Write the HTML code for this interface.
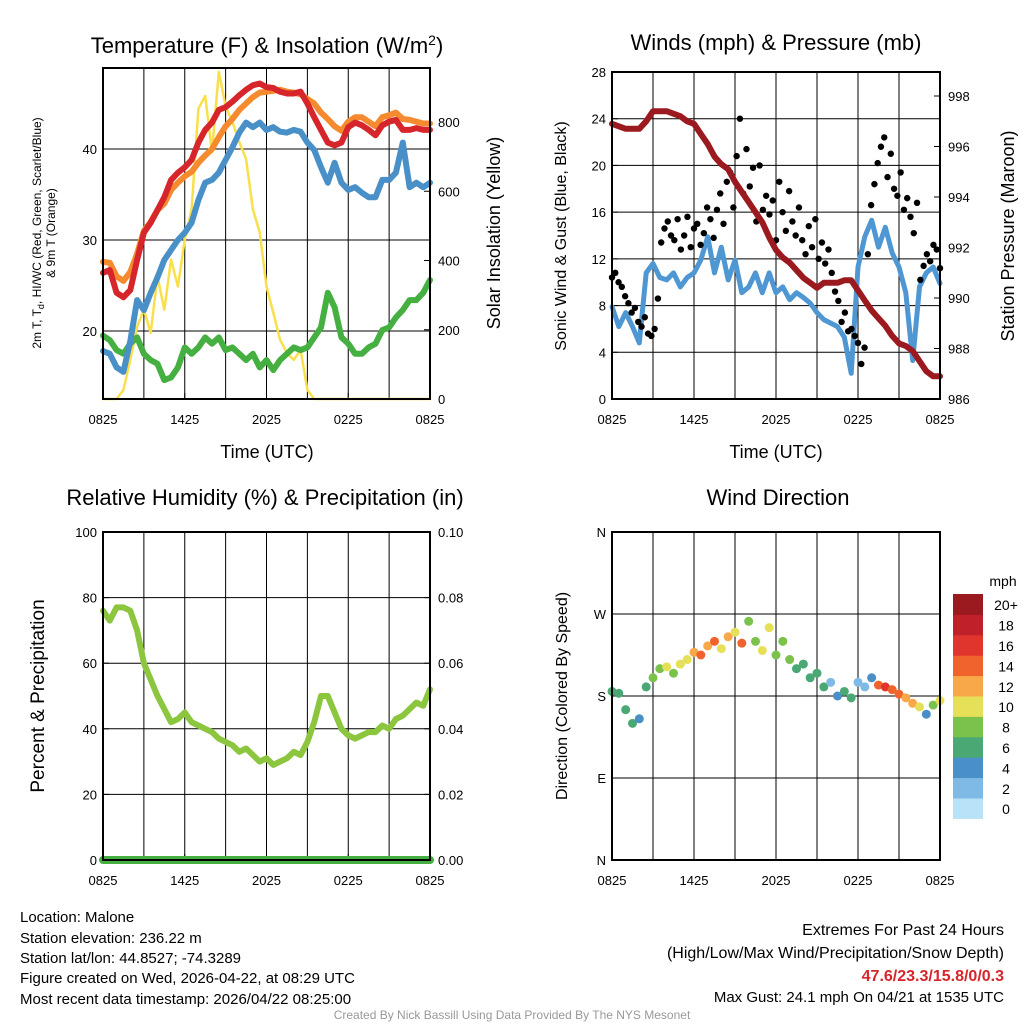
<!DOCTYPE html>
<html><head><meta charset="utf-8">
<style>
html,body{margin:0;padding:0;background:#fff;}
#wrap{position:relative;width:1024px;height:1024px;overflow:hidden;font-family:"Liberation Sans",sans-serif;}
svg text{font-family:"Liberation Sans",sans-serif;}
</style></head>
<body>
<div id="wrap">
<svg id="svg" width="1024" height="1024" viewBox="0 0 1024 1024" xmlns="http://www.w3.org/2000/svg">
<g id="static">
<text x="267" y="53" font-size="22" text-anchor="middle">Temperature (F) &amp; Insolation (W/m<tspan dy="-8" font-size="14">2</tspan><tspan dy="8">)</tspan></text>
<text x="776" y="50" font-size="22" text-anchor="middle">Winds (mph) &amp; Pressure (mb)</text>
<text x="265" y="505" font-size="22" text-anchor="middle">Relative Humidity (%) &amp; Precipitation (in)</text>
<text x="778" y="505" font-size="22" text-anchor="middle">Wind Direction</text>
<text transform="translate(41,233) rotate(-90)" font-size="12" text-anchor="middle">2m T, T<tspan dy="3" font-size="9">d</tspan><tspan dy="-3">, HI/WC (Red, Green, Scarlet/Blue)</tspan></text>
<text transform="translate(55,233) rotate(-90)" font-size="12" text-anchor="middle">&amp; 9m T (Orange)</text>
<text transform="translate(500,233) rotate(-90)" font-size="18" text-anchor="middle">Solar Insolation (Yellow)</text>
<text x="267" y="458" font-size="18" text-anchor="middle">Time (UTC)</text>
<text x="776" y="458" font-size="18" text-anchor="middle">Time (UTC)</text>
<text transform="translate(566,236) rotate(-90)" font-size="16" text-anchor="middle">Sonic Wind &amp; Gust (Blue, Black)</text>
<text transform="translate(1014,236) rotate(-90)" font-size="18" text-anchor="middle">Station Pressure (Maroon)</text>
<text transform="translate(44,696) rotate(-90)" font-size="19" text-anchor="middle">Percent &amp; Precipitation</text>
<text transform="translate(567,696) rotate(-90)" font-size="16" text-anchor="middle">Direction (Colored By Speed)</text>
<text x="20" y="922" font-size="15">Location: Malone</text>
<text x="20" y="943" font-size="15">Station elevation: 236.22 m</text>
<text x="20" y="963" font-size="15">Station lat/lon: 44.8527; -74.3289</text>
<text x="20" y="983" font-size="15">Figure created on Wed, 2026-04-22, at 08:29 UTC</text>
<text x="20" y="1004" font-size="15">Most recent data timestamp: 2026/04/22 08:25:00</text>
<text x="1004" y="935" font-size="16" text-anchor="end">Extremes For Past 24 Hours</text>
<text x="1004" y="958" font-size="16" text-anchor="end">(High/Low/Max Wind/Precipitation/Snow Depth)</text>
<text x="1004" y="981" font-size="16" font-weight="bold" fill="#d7262b" text-anchor="end">47.6/23.3/15.8/0/0.3</text>
<text x="1004" y="1002" font-size="15" text-anchor="end">Max Gust: 24.1 mph On 04/21 at 1535 UTC</text>
<text x="512" y="1019" font-size="12" fill="#999" text-anchor="middle">Created By Nick Bassill Using Data Provided By The NYS Mesonet</text>
<text x="1003" y="586" font-size="14" text-anchor="middle">mph</text>
</g>
</svg>
</div>
<script>
// ---- Temperature panel data (every 30 min, 0825 -> 0825) ----
const timeTicks = ["0825","1425","2025","0225","0825"];
const tempT = [26.4,26.7,24.2,23.7,24.5,27.8,30.8,31.9,33.3,34.7,36.6,37.4,38.0,38.8,40.7,42.1,42.9,44.3,44.6,45.2,45.9,46.5,47.0,47.2,46.8,46.7,46.3,46.1,46.1,46.3,45.0,43.5,42.1,40.7,40.4,40.7,42.4,42.9,42.6,42.1,41.5,42.6,43.0,43.2,42.1,42.1,42.3,42.1,42.1];
const temp9m = [27.6,27.5,26.0,25.5,26.5,28.5,31.0,32.0,33.3,34.0,35.5,36.3,37.0,37.5,38.5,39.3,40.0,41.3,42.5,43.3,44.3,45.0,45.7,46.2,46.3,46.4,46.5,46.3,46.2,46.0,45.5,45.0,44.0,43.3,42.5,42.0,43.0,43.5,43.5,43.0,42.5,43.5,43.7,44.0,43.3,43.2,43.0,42.8,42.8];
const tempBlue = [17.8,17.5,16.0,15.5,18.9,23.4,22.3,24.2,25.9,27.8,28.9,30.0,30.8,31.9,34.4,36.3,36.6,37.4,38.8,40.2,41.8,42.9,42.4,42.9,42.1,42.4,41.9,41.8,42.1,41.9,40.7,39.9,38.0,36.3,38.5,36.3,35.5,35.8,35.2,34.7,34.7,36.6,36.6,37.4,40.7,35.8,36.3,35.8,36.3];
const tempGreen = [19.5,19.0,17.9,17.5,18.6,19.3,17.5,16.8,16.4,14.6,14.9,16.0,18.2,17.5,18.2,19.3,18.6,19.3,17.9,18.2,17.5,16.8,17.5,16.0,16.8,15.7,16.8,17.5,18.2,17.9,18.2,19.3,20.4,24.2,22.6,19.3,18.6,17.5,17.5,18.2,18.6,20.1,20.4,21.5,22.3,23.4,23.4,24.2,25.6];
const insolation = [0,0,0,26,113,209,258,191,354,258,403,325,461,548,838,875,713,945,846,800,742,693,548,481,325,249,171,133,113,142,26,0,0,0,0,0,0,0,0,0,0,0,0,0,0,0,0,0,0];
const tempTicks = [20,30,40];
const insTicks = [0,200,400,600,800];
// ---- Wind panel data ----
const windTicks = [0,4,8,12,16,20,24,28];
const presTicks = [986,988,990,992,994,996,998];
const windSpeed = [7.9,6.2,7.4,6.2,4.8,10.8,11.6,10.4,10.2,10.8,9.6,10.4,10.8,11.9,13.9,10.8,13.0,10.2,11.9,9.1,9.6,10.8,9.1,10.8,9.1,9.6,8.5,9.1,8.7,8.2,7.4,6.8,6.5,6.2,5.3,2.2,11.3,13.9,15.3,13.0,14.7,12.5,11.3,9.1,3.3,9.6,10.8,11.3,9.9];
const gusts = [10.4,10.8,10.0,9.6,8.8,8.2,7.4,7.8,6.6,6.2,7.0,5.6,5.4,6.0,8.6,13.4,14.6,15.2,14.0,13.6,15.4,12.8,14.0,15.6,13.0,14.6,15.0,13.2,14.2,16.4,15.4,13.8,16.2,17.6,15.0,18.6,19.4,16.4,20.8,24.0,17.6,21.4,18.2,19.8,15.2,20.0,16.2,17.4,15.8,17.0,13.6,18.6,16.0,14.4,17.8,15.2,14.0,16.4,13.6,12.4,14.8,13.0,15.4,12.0,13.4,11.6,12.8,10.8,9.2,8.4,6.6,7.4,5.8,6.0,5.4,4.8,3.0,4.4,12.4,16.6,18.4,20.2,21.6,22.4,19.0,21.0,18.0,17.4,19.4,16.2,17.2,15.6,14.2,16.8,10.2,11.4,12.4,11.8,13.2,12.8,11.2];
const pressure = [996.9,996.8,996.7,996.7,996.7,997.0,997.4,997.4,997.4,997.3,997.2,997.0,996.9,996.5,996.1,995.6,995.3,995.1,994.6,994.2,993.8,993.4,993.0,992.4,991.9,991.6,991.4,991.1,990.8,990.6,990.4,990.6,990.6,990.6,990.7,990.7,990.3,989.9,989.5,989.2,988.9,988.5,988.2,988.1,987.9,987.5,987.1,986.9,986.9];
// ---- RH panel data ----
const rhTicks = [0,20,40,60,80,100];
const precipTicks = ["0.00","0.02","0.04","0.06","0.08","0.10"];
const rh = [76,73,77,77,76,70,60,55,50,46,42,43,45,42,41,40,39,37,36,35,33,34,32,30,31,29,30,31,33,32,36,42,50,50,45,40,38,37,38,39,39,41,40,43,44,46,48,47,52];
const precip = [0,0,0,0,0,0,0,0,0,0,0,0,0,0,0,0,0,0,0,0,0,0,0,0,0,0,0,0,0,0,0,0,0,0,0,0,0,0,0,0,0,0,0,0,0,0,0,0,0];
// ---- Wind direction panel data ----
const dirTicks = ["N","E","S","W","N"];
const windDir = [185,183,165,150,155,190,200,210,212,205,215,220,228,225,235,240,232,245,250,238,262,240,230,255,225,240,220,210,215,200,205,190,195,180,185,178,195,190,200,192,190,187,182,178,172,168,160,170,175];
const dirSpeed = [7,6,6,6,5,6,8,9,10,8,10,11,13,14,12,15,10,13,11,14,9,9,11,10,8,9,8,7,6,7,7,7,3,4,6,6,2,3,5,14,16,15,14,13,12,11,4,9,10];
const cbLabels = ["0","2","4","6","8","10","12","14","16","18","20+"];
const cbColors = ["#b8e2f8","#7fbae6","#4a90c8","#4aa874","#7bc24c","#e6e058","#f8a848","#f1632c","#e0352c","#c0202a","#9b1a1f"];

const NS = "http://www.w3.org/2000/svg";
const svg = document.getElementById("svg");
function mk(tag, attrs, parent){
  const e = document.createElementNS(NS, tag);
  for (const k in attrs) e.setAttribute(k, attrs[k]);
  (parent||svg).appendChild(e);
  return e;
}
function lin(d0,d1,r0,r1){ return v => r0 + (v-d0)/(d1-d0)*(r1-r0); }

function panelFrame(x0,x1,y0,y1,name){
  const g = mk("g",{});
  
  
  const xs = lin(0,24,x0,x1);
  for (let h=3; h<24; h+=3){
    const l = mk("line",{x1:xs(h),x2:xs(h),y1:y0,y2:y1,stroke:"#000","stroke-width":1},g);
    
    
  }
  timeTicks.forEach((t,i)=>{
    const x = xs(i*6);
    const tk = mk("line",{x1:x,x2:x,y1:y1,y2:y1-6,stroke:"#000"},g);
    
    
    const tx = mk("text",{x:x,y:y1+25,"font-size":13,"text-anchor":"middle"},g);
    tx.textContent = t;
    
    
  });
  return {g, xs};
}
function border(x0,x1,y0,y1,g){
  const r = mk("rect",{x:x0,y:y0,width:x1-x0,height:y1-y0,fill:"none",stroke:"#000","stroke-width":2},g);
  
  
}
function yTicks(vals,labels,ys,x,side,g,grid,x0,x1){
  vals.forEach((v,i)=>{
    const y = ys(v);
    if (grid){
      const gl = mk("line",{x1:x0,x2:x1,y1:y,y2:y,stroke:"#000","stroke-width":1},g);
      
      
    }
    const tk = mk("line",{x1:x,x2:x+(side<0?6:-6),y1:y,y2:y,stroke:"#000"},g);
    
    
    const t = mk("text",{x:side<0?x-6:x+8,y:y+5,"font-size":13,"text-anchor":side<0?"end":"start"},g);
    t.textContent = labels[i];
    
    
  });
}
function line(arr, xs, ys, color, w, g, name){
  const n = arr.length;
  const pts = arr.map((v,i)=> xs(i*24/(n-1)).toFixed(1)+","+ys(v).toFixed(1)).join(" ");
  const p = mk("polyline",{points:pts,fill:"none",stroke:color,"stroke-width":w,"stroke-linejoin":"round","stroke-linecap":"round"},g);
  
  
}

// Panel 1
(function(){
  const x0=103,x1=430,y0=68,y1=399;
  const {g,xs} = panelFrame(x0,x1,y0,y1,'temperature-panel');
  const yT = lin(20,40,331,149);
  const yI = lin(0,800,399,122);
  yTicks(tempTicks,tempTicks.map(String),yT,x0,-1,g,true,x0,x1);
  yTicks(insTicks,insTicks.map(String),yI,x1,1,g,false);
  line(insolation,xs,yI,"#f9e04b",2.5,g,'insolation-line');
  line(tempGreen,xs,yT,"#45b041",6,g,'dewpoint-line');
  line(tempBlue,xs,yT,"#4a90c8",6,g,'heat-index-line');
  line(temp9m,xs,yT,"#f58a2e",6,g,'temp-9m-line');
  line(tempT,xs,yT,"#d7262b",6,g,'temp-2m-line');
  border(x0,x1,y0,y1,g);
})();
// Panel 2
(function(){
  const x0=612,x1=940,y0=72,y1=399;
  const {g,xs} = panelFrame(x0,x1,y0,y1,'wind-panel');
  const yW = lin(0,28,399,72);
  const yP = lin(986,998,399,96);
  yTicks(windTicks,windTicks.map(String),yW,x0,-1,g,true,x0,x1);
  yTicks(presTicks,presTicks.map(String),yP,x1,1,g,false);
  line(windSpeed,xs,yW,"#4f97d3",5,g,'wind-speed-line');
  const n = gusts.length;
  gusts.forEach((v,i)=>{
    const c = mk("circle",{cx:xs(i*24/(n-1)),cy:yW(v),r:3.2,fill:"#000"},g);
    
    
  });
  line(pressure,xs,yP,"#9b1a1f",6,g,'pressure-line');
  border(x0,x1,y0,y1,g);
})();
// Panel 3
(function(){
  const x0=103,x1=430,y0=532,y1=860;
  const {g,xs} = panelFrame(x0,x1,y0,y1,'humidity-panel');
  const yR = lin(0,100,860,532);
  const yPr = lin(0,0.1,860,532);
  yTicks(rhTicks,rhTicks.map(String),yR,x0,-1,g,true,x0,x1);
  yTicks(precipTicks.map(Number),precipTicks,yPr,x1,1,g,false);
  line(rh,xs,yR,"#8cc63f",6,g,'rh-line');
  line(precip,xs,yPr,"#45b041",8,g,'precip-line');
  border(x0,x1,y0,y1,g);
})();
// Panel 4
(function(){
  const x0=612,x1=940,y0=532,y1=860;
  const {g,xs} = panelFrame(x0,x1,y0,y1,'wind-direction-panel');
  const yD = lin(0,360,860,532);
  yTicks([0,90,180,270,360],dirTicks,yD,x0,-1,g,true,x0,x1);
  const n = windDir.length;
  windDir.forEach((d,i)=>{
    const ci = Math.min(10, Math.floor(dirSpeed[i]/2));
    const c = mk("circle",{cx:xs(i*24/(n-1)),cy:yD(d),r:4.5,fill:cbColors[ci]},g);
    
    
  });
  border(x0,x1,y0,y1,g);
  const cb = mk("g",{});
  
  
  const h = 20.4, top = 594;
  cbLabels.forEach((lab,i)=>{
    const y = top + (10-i)*h;
    const r = mk("rect",{x:953,y:y,width:30,height:h+0.5,fill:cbColors[i]},cb);
    
    
    const t = mk("text",{x:1006,y:y+h/2+6,"font-size":14,"text-anchor":"middle"},cb);
    t.textContent = lab;
    
    
  });
})();
</script>
</body></html>
